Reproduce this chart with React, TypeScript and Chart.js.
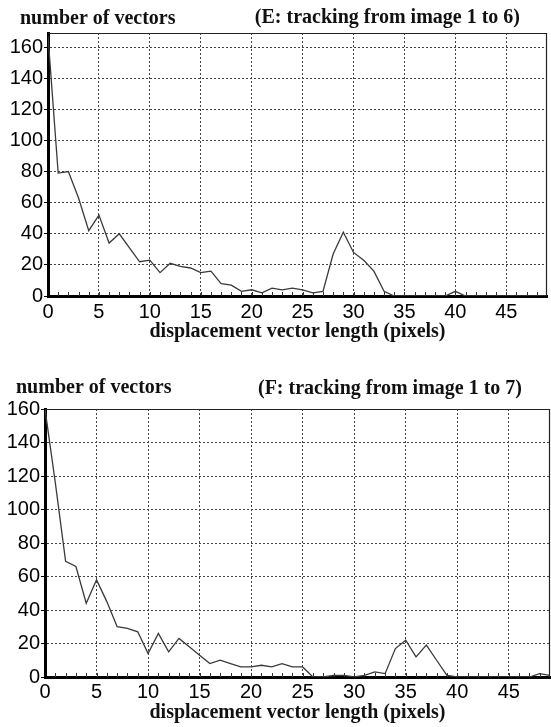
import React, { useEffect, useRef } from 'react';
import { Chart, registerables } from 'chart.js';
Chart.register(...registerables);

// ---- data ----
const lengthsE = [0,1,2,3,4,5,6,7,8,9,10,11,12,13,14,15,16,17,18,19,20,21,22,23,24,25,26,27,28,29,30,31,32,33,34,35,36,37,38,39,40,41,42,43,44,45,46,47,48,49];
const countsE = [167,79,80,63,42,52,34,40,31,22,23,15,21,19,18,15,16,8,7,3,4,2,5,4,5,4,2,3,27,41,28,23,16,3,0,0,0,0,0,0,3,0,0,0,0,0,0,0,0,0];
const lengthsF = [0,1,2,3,4,5,6,7,8,9,10,11,12,13,14,15,16,17,18,19,20,21,22,23,24,25,26,27,28,29,30,31,32,33,34,35,36,37,38,39,40,41,42,43,44,45,46,47,48,49];
const countsF = [160,116,69,66,44,58,45,30,29,27,14,26,15,23,18,13,8,10,8,6,6,7,6,8,6,6,0,0,1,1,0,1,3,2,17,22,12,19,10,1,0,0,0,0,0,0,0,0,2,1];

const xTickValues = [0,5,10,15,20,25,30,35,40,45];
const yTickValues = [0,20,40,60,80,100,120,140,160];
const xMin = 0;
const xMax = 49;
const yMaxE = 169;
const yMaxF = 160;

const yAxisLabel = 'number of vectors';
const xAxisLabel = 'displacement vector length (pixels)';
const captionE = '(E: tracking from image 1 to 6)';
const captionF = '(F: tracking from image 1 to 7)';

const SANS = '"Liberation Sans", Arial, Helvetica, sans-serif';
const SERIF = '"Liberation Serif", "Times New Roman", serif';

const decorPlugin = {
  id: 'decor',
  afterDraw(chart: any, _args: any, opts: any) {
    const { ctx, chartArea: a, scales } = chart;
    ctx.save();
    ctx.setLineDash([]);
    // thin frame on top and right
    ctx.strokeStyle = '#222';
    ctx.lineWidth = 1.2;
    ctx.beginPath();
    ctx.moveTo(a.left, a.top + 0.5);
    ctx.lineTo(a.right - 0.5, a.top + 0.5);
    ctx.lineTo(a.right - 0.5, a.bottom);
    ctx.stroke();
    // minor ticks on x axis (every unit), pointing inward
    const xs = scales.x;
    ctx.lineWidth = 1;
    ctx.strokeStyle = '#333';
    ctx.beginPath();
    for (let v = xMin + 1; v < xMax; v++) {
      const px = Math.round(xs.getPixelForValue(v)) + 0.5;
      ctx.moveTo(px, a.bottom);
      ctx.lineTo(px, a.bottom - 4);
    }
    ctx.stroke();
    // top texts
    ctx.fillStyle = '#111';
    ctx.font = 'bold 20px ' + SERIF;
    ctx.textBaseline = 'alphabetic';
    ctx.textAlign = 'left';
    ctx.fillText(opts.leftText, opts.leftX, opts.leftY);
    ctx.textAlign = 'right';
    ctx.fillText(opts.rightText, opts.rightX, opts.rightY);
    ctx.restore();
  },
};

function makeConfig(p: any) {
  return {
    type: 'line',
    data: {
      datasets: [
        {
          data: p.xs.map((x: number, i: number) => ({ x, y: p.ys[i] })),
          borderColor: '#3a3a3a',
          borderWidth: 1.3,
          pointRadius: 0,
          tension: 0,
          fill: false,
        },
      ],
    },
    options: {
      animation: false,
      responsive: false,
      maintainAspectRatio: false,
      layout: { padding: { top: p.padTop, right: p.padRight, left: 0, bottom: 0 } },
      plugins: {
        legend: { display: false },
        tooltip: { enabled: false },
        title: { display: false },
        decor: {
          leftText: yAxisLabel,
          rightText: p.caption,
          leftX: p.leftX,
          leftY: p.leftY,
          rightX: p.rightX,
          rightY: p.rightY,
        },
      },
      scales: {
        x: {
          type: 'linear',
          min: xMin,
          max: xMax,
          afterBuildTicks: (s: any) => {
            s.ticks = xTickValues.map((v) => ({ value: v }));
          },
          afterFit: (s: any) => {
            s.height = p.xHeight;
          },
          grid: {
            color: '#444',
            lineWidth: 1,
            drawTicks: false,
          },
          border: { display: true, color: '#000', width: 3, dash: [2, 2] },
          ticks: {
            color: '#000',
            font: { family: SANS, size: 20 },
            padding: p.xTickPad,
            maxRotation: 0,
            autoSkip: false,
          },
          title: {
            display: true,
            text: xAxisLabel,
            color: '#111',
            font: { family: SERIF, size: 20, weight: 'bold' },
            padding: { top: 0, bottom: p.xTitlePadBottom },
          },
        },
        y: {
          type: 'linear',
          min: 0,
          max: p.yMax,
          afterBuildTicks: (s: any) => {
            s.ticks = yTickValues.map((v) => ({ value: v }));
          },
          afterFit: (s: any) => {
            s.width = p.yWidth;
          },
          grid: {
            color: '#444',
            lineWidth: 1,
            drawTicks: true,
            tickLength: 4,
            tickColor: '#000',
            tickBorderDash: [],
          },
          border: { display: true, color: '#000', width: 3, dash: [2, 2] },
          ticks: {
            color: '#000',
            font: { family: SANS, size: 20 },
            padding: 1,
            autoSkip: false,
          },
        },
      },
    },
    plugins: [decorPlugin],
  };
}

function HistChart(props: any) {
  const ref = useRef<HTMLCanvasElement | null>(null);
  useEffect(() => {
    if (!ref.current) return;
    const cfg: any = makeConfig(props.p);
    const chart = new Chart(ref.current, cfg);
    return () => chart.destroy();
  }, []);
  return (
    <div style={{ position: 'absolute', left: 0, top: props.top, width: 551, height: props.height }}>
      <canvas ref={ref} width={551} height={props.height} style={{ width: 551, height: props.height, display: 'block' }} />
    </div>
  );
}

export default function App() {
  const pE = {
    xs: lengthsE, ys: countsE, yMax: yMaxE, caption: captionE,
    padTop: 33, padRight: 4, yWidth: 48, xHeight: 49,
    xTickPad: 4, xTitlePadBottom: 1,
    leftX: 20, leftY: 24, rightX: 520, rightY: 23,
  };
  const pF = {
    xs: lengthsF, ys: countsF, yMax: yMaxF, caption: captionF,
    padTop: 49, padRight: 1, yWidth: 45, xHeight: 50,
    xTickPad: 3, xTitlePadBottom: 2,
    leftX: 16, leftY: 33, rightX: 522, rightY: 34,
  };
  return (
    <div style={{ position: 'fixed', left: 0, top: 0, width: 551, height: 727, background: '#fff' }}>
      <HistChart p={pE} top={0} height={345} />
      <HistChart p={pF} top={360} height={367} />
    </div>
  );
}
